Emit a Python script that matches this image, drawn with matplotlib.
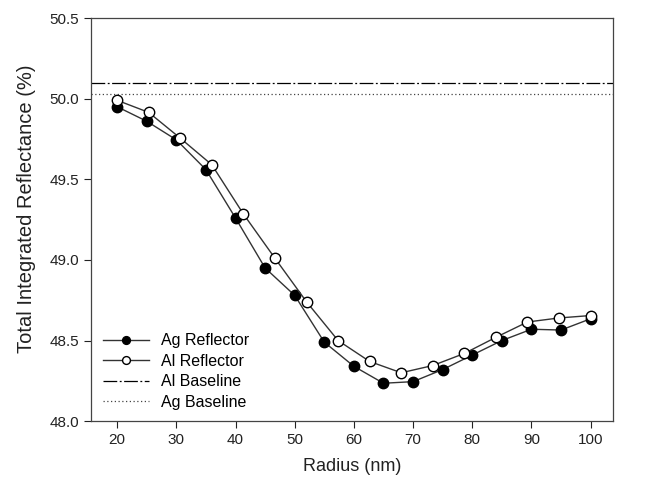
import matplotlib.pyplot as plt

# Ag reflector (filled circles)
ag_radius = [20, 25, 30, 35, 40, 45, 50, 55, 60, 65, 70, 75, 80, 85, 90, 95, 100]
ag_refl = [49.95, 49.86, 49.745, 49.56, 49.26, 48.95, 48.78, 48.49, 48.34,
           48.235, 48.245, 48.32, 48.41, 48.50, 48.57, 48.565, 48.635]

# Al reflector (open circles)
al_radius = [20, 25.33, 30.67, 36, 41.33, 46.67, 52, 57.33, 62.67, 68,
             73.33, 78.67, 84, 89.33, 94.67, 100]
al_refl = [49.99, 49.915, 49.755, 49.59, 49.285, 49.01, 48.74, 48.50, 48.37,
           48.30, 48.345, 48.42, 48.52, 48.615, 48.64, 48.655]

# baselines
al_base = 50.10
ag_base = 50.03

plt.rcParams["font.family"] = ["Liberation Sans", "DejaVu Sans"]

fig = plt.figure(figsize=(6.6, 4.88), dpi=100)
ax = fig.add_axes([0.138, 0.137, 0.791, 0.826])

ax.plot(ag_radius, ag_refl, color="#333333", lw=1, marker="o", ms=7.5,
        mfc="black", mec="black", mew=1, label="Ag Reflector")
ax.plot(al_radius, al_refl, color="#333333", lw=1, marker="o", ms=7.5,
        mfc="white", mec="black", mew=1, label="Al Reflector")
ax.axhline(al_base, color="black", lw=0.9, dashes=[11, 2, 1.5, 2], label="Al Baseline")
ax.axhline(ag_base, color="#444444", lw=0.9, dashes=[1, 2], label="Ag Baseline")

ax.set_xlim(15.6, 103.8)
ax.set_ylim(48.0, 50.5)
ax.set_xticks(range(20, 101, 10))
ax.set_yticks([48.0, 48.5, 49.0, 49.5, 50.0, 50.5])
ax.set_yticklabels(["48.0", "48.5", "49.0", "49.5", "50.0", "50.5"])
ax.tick_params(direction="out", length=5, width=0.8, labelsize=11, colors="#222222")
for s in ax.spines.values():
    s.set_linewidth(0.9)
    s.set_color("#444444")

ax.set_xlabel("Radius (nm)", fontsize=13, labelpad=8, color="#222222")
ax.set_ylabel("Total Integrated Reflectance (%)", fontsize=14.5, color="#222222")
ax.yaxis.set_label_coords(-0.105, 0.526)

ax.legend(loc="lower left", frameon=False, fontsize=11.5, numpoints=1,
          markerscale=0.75, handlelength=2.9, handletextpad=0.75,
          labelspacing=0.35, bbox_to_anchor=(-0.005, -0.008))

fig.savefig("out.png", dpi=100)
